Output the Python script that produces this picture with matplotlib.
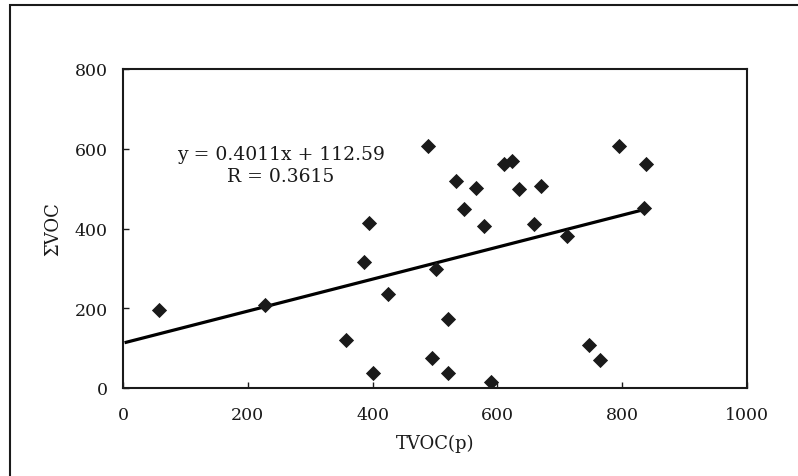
import matplotlib
matplotlib.use("Agg")
import matplotlib.pyplot as plt
from matplotlib.patches import Rectangle
import numpy as np

# Data
tvoc = [58, 228, 357, 386, 394, 400, 424, 488, 495, 501, 521, 521, 533, 546,
        565, 578, 589, 610, 624, 635, 659, 670, 712, 747, 764, 795, 835, 838]
svoc = [195, 207, 120, 315, 415, 37, 236, 607, 74, 298, 174, 37, 519, 448,
        502, 407, 16, 561, 569, 498, 411, 507, 382, 107, 69, 607, 452, 561]
slope = 0.4011
intercept = 112.59
trend_start = 5
eq_text = "y = 0.4011x + 112.59"
r_text = "R = 0.3615"
x_ticks = [0, 200, 400, 600, 800, 1000]
y_ticks = [0, 200, 400, 600, 800]
x_label = "TVOC(p)"
y_label = "ΣVOC"

plt.rcParams['font.family'] = ['DejaVu Serif']

W, H = 798, 477
fig = plt.figure(figsize=(W / 100, H / 100), dpi=100)
fig.patch.set_facecolor("white")

# outer frame (partially cut off on right and bottom)
fig.patches.append(Rectangle((10 / W, -0.05), 1.2, 1 - 6 / H + 0.05,
                             transform=fig.transFigure, fill=False,
                             edgecolor="#1a1a1a", linewidth=1.5))

ax = fig.add_axes([123 / W, 1 - 389 / H, (747 - 123) / W, (389 - 70) / H])
ax.set_xlim(0, 1000)
ax.set_ylim(0, 800)
ax.set_xticks(x_ticks)
ax.set_yticks(y_ticks)
ax.tick_params(direction="in", length=4, width=1, labelsize=12.5,
               colors="#1a1a1a")
ax.tick_params(axis="y", pad=11)
ax.tick_params(axis="x", pad=13)
for s in ax.spines.values():
    s.set_linewidth(1.5)
    s.set_color("#1a1a1a")

ax.scatter(tvoc, svoc, marker="D", s=60, color="#1a1a1a", zorder=3,
           linewidths=0)

xs = np.array([trend_start, max(tvoc)])
ax.plot(xs, slope * xs + intercept, color="black", linewidth=2.3, zorder=2)

ax.text(0.253, 0.735, eq_text, transform=ax.transAxes, ha="center",
        va="center", fontsize=13.5, color="#1a1a1a")
ax.text(0.253, 0.665, r_text, transform=ax.transAxes, ha="center",
        va="center", fontsize=13.5, color="#1a1a1a")

ax.set_xlabel(x_label, fontsize=13, labelpad=8, color="#1a1a1a")
ax.set_ylabel(y_label, fontsize=13, labelpad=9, color="#1a1a1a")

fig.savefig("out.png", dpi=100, facecolor="white")
